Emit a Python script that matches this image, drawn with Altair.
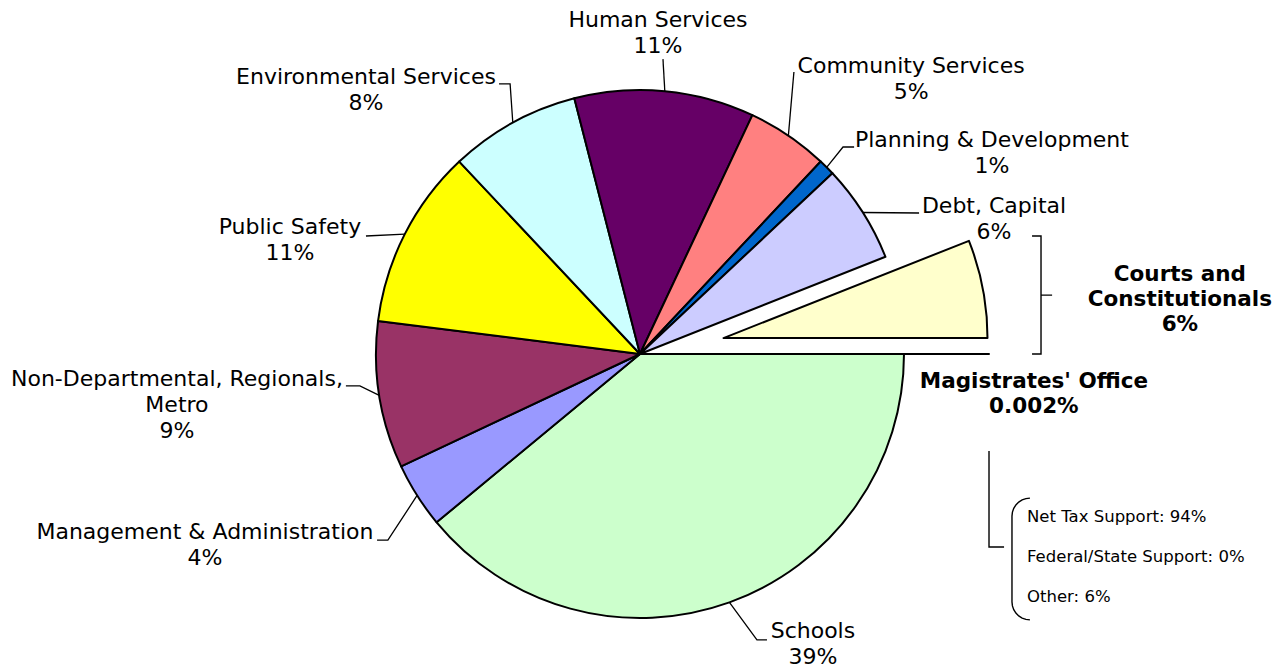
import math
import numpy as np
import pandas as pd
import altair as alt

# ---------------- data ----------------
categories = [
    "Schools",
    "Management & Administration",
    "Non-Departmental, Regionals, Metro",
    "Public Safety",
    "Environmental Services",
    "Human Services",
    "Community Services",
    "Planning & Development",
    "Debt, Capital",
    "Courts and Constitutionals",
    "Magistrates' Office",
]
shares = [39, 4, 9, 11, 8, 11, 5, 1, 6, 6, 0.002]
label_names = [
    "Schools",
    "Management & Administration",
    "Non-Departmental, Regionals,\nMetro",
    "Public Safety",
    "Environmental Services",
    "Human Services",
    "Community Services",
    "Planning & Development",
    "Debt, Capital",
    "Courts and\nConstitutionals",
    "Magistrates' Office",
]
exploded = [0, 0, 0, 0, 0, 0, 0, 0, 0, 1, 1]
bold_label = [0, 0, 0, 0, 0, 0, 0, 0, 0, 1, 1]
funding_labels = ["Net Tax Support: 94%", "Federal/State Support: 0%", "Other: 6%"]

# ---------------- styles / layout ----------------
colors = ["#CCFFCC", "#9999FF", "#993366", "#FFFF00", "#CCFFFF", "#660066",
          "#FF8080", "#0066CC", "#CCCCFF", "#FFFFCC", "#FFFFCC"]
W, H = 1267, 662          # drawing area (px)
CX, CY = 632, 346         # pie centre (px)
R = 264                   # pie radius (px); 1 data unit = R px
EXPLODE = 85 / R
FONT = "DejaVu Sans"
LH_REG, LH_BOLD = 26, 25

# label block centres in pie-radius units (centre = 0,0, y up)
label_pos = {
    "Schools": (0.655, -1.098),
    "Management & Administration": (-1.648, -0.723),
    "Non-Departmental, Regionals, Metro": (-1.754, -0.193),
    "Public Safety": (-1.326, 0.432),
    "Environmental Services": (-1.038, 1.0),
    "Human Services": (0.068, 1.216),
    "Community Services": (1.027, 1.042),
    "Planning & Development": (1.333, 0.761),
    "Debt, Capital": (1.341, 0.511),
    "Courts and Constitutionals": (2.045, 0.205),
    "Magistrates' Office": (1.492, -0.155),
}
# leader line points after the slice edge point
leader_pts = {
    "Schools": [(0.443, -1.083), (0.481, -1.083)],
    "Management & Administration": [(-0.955, -0.705), (-0.996, -0.705)],
    "Non-Departmental, Regionals, Metro": [(-1.061, -0.121), (-1.114, -0.121)],
    "Public Safety": [(-1.038, 0.447)],
    "Environmental Services": [(-0.492, 1.023), (-0.534, 1.023)],
    "Human Services": [(0.087, 1.117)],
    "Community Services": [(0.583, 1.068)],
    "Planning & Development": [(0.769, 0.784), (0.811, 0.784)],
    "Debt, Capital": [(1.057, 0.534)],
}

# ---------------- build tables ----------------
total = sum(shares)
df = pd.DataFrame({"category": categories, "share": shares,
                   "explode": exploded, "bold": bold_label, "name": label_names})
df["end"] = df["share"].cumsum()
df["start"] = df["end"] - df["share"]
df["mid"] = math.pi / 2 + 2 * math.pi * (df["start"] + df["end"]) / 2 / total
df["cx"] = df["explode"] * EXPLODE * np.sin(df["mid"])
df["cy"] = df["explode"] * EXPLODE * np.cos(df["mid"])
df["label"] = df["name"] + "\n" + df["share"].map(lambda v: f"{v:g}") + "%"
df["nlines"] = df["label"].str.count("\n") + 1
df["lh"] = np.where(df["bold"] == 1, LH_BOLD, LH_REG)
df["lx"] = df["category"].map(lambda c: label_pos[c][0])
# Vega places the first line at y: shift so the whole block is centred
df["ly"] = df["category"].map(lambda c: label_pos[c][1]) + (df["nlines"] - 1) * df["lh"] / 2 / R

rows = []
for _, r in df.iterrows():
    if r["category"] in leader_pts:
        pts = [(math.sin(r["mid"]), math.cos(r["mid"]))] + leader_pts[r["category"]]
        for i, (px, py) in enumerate(pts):
            rows.append({"key": r["category"], "o": i, "x": px, "y": py})
leaders = pd.DataFrame(rows)

# brackets
brk = []
brace = [(1.485, 0.447), (1.519, 0.447), (1.519, 0.223), (1.561, 0.223),
         (1.519, 0.223), (1.519, 0.0), (1.485, 0.0)]
for i, (px, py) in enumerate(brace):
    brk.append({"key": "brace", "o": i, "x": px, "y": py})
ell = [(1.322, -0.367), (1.322, -0.731), (1.379, -0.731)]
for i, (px, py) in enumerate(ell):
    brk.append({"key": "ell", "o": i, "x": px, "y": py})
rc = 0.068
px0, top_c, bot_c = 1.477, -0.614, -0.939
paren = []
for a in np.linspace(0, math.pi / 2, 8):
    paren.append((px0 - rc * math.sin(a), top_c + rc * math.cos(a)))
for a in np.linspace(math.pi / 2, math.pi, 8):
    paren.append((px0 - rc * math.sin(a), bot_c + rc * math.cos(a)))
for i, (px, py) in enumerate(paren):
    brk.append({"key": "paren", "o": i, "x": px, "y": py})
brackets = pd.DataFrame(brk)

funding = pd.DataFrame({"text": funding_labels,
                        "x": [1.466] * 3, "y": [-0.617, -0.769, -0.920]})

# ---------------- scales ----------------
xs = alt.Scale(domain=[-CX / R, (W - CX) / R], nice=False, zero=False)
ys = alt.Scale(domain=[-(H - CY) / R, CY / R], nice=False, zero=False)
theta_scale = alt.Scale(domain=[0, total], range=[math.pi / 2, math.pi / 2 + 2 * math.pi])

pie = alt.Chart(df).mark_arc(radius=R, stroke="black", strokeWidth=2, strokeJoin="round").encode(
    theta=alt.Theta("start:Q", stack=None, scale=theta_scale),
    theta2="end:Q",
    x=alt.X("cx:Q", scale=xs, axis=None),
    y=alt.Y("cy:Q", scale=ys, axis=None),
    color=alt.Color("category:N", scale=alt.Scale(domain=categories, range=colors), legend=None),
)

lead = alt.Chart(leaders).mark_line(color="black", strokeWidth=1.3).encode(
    x=alt.X("x:Q", scale=xs, axis=None),
    y=alt.Y("y:Q", scale=ys, axis=None),
    detail="key:N",
    order="o:Q",
)

brk_lines = alt.Chart(brackets).mark_line(color="black", strokeWidth=1.4).encode(
    x=alt.X("x:Q", scale=xs, axis=None),
    y=alt.Y("y:Q", scale=ys, axis=None),
    detail="key:N",
    order="o:Q",
)

labels = alt.Chart(df).transform_filter("datum.bold == 0").mark_text(
    font=FONT, fontSize=22, lineBreak="\n", lineHeight=LH_REG,
    align="center", baseline="middle", color="black",
).encode(
    x=alt.X("lx:Q", scale=xs, axis=None),
    y=alt.Y("ly:Q", scale=ys, axis=None),
    text="label:N",
)

bold_labels = alt.Chart(df).transform_filter("datum.bold == 1").mark_text(
    font=FONT, fontSize=21.5, fontWeight="bold", lineBreak="\n", lineHeight=LH_BOLD,
    align="center", baseline="middle", color="black",
).encode(
    x=alt.X("lx:Q", scale=xs, axis=None),
    y=alt.Y("ly:Q", scale=ys, axis=None),
    text="label:N",
)

fund = alt.Chart(funding).mark_text(
    font=FONT, fontSize=16.5, align="left", baseline="middle", color="black",
).encode(
    x=alt.X("x:Q", scale=xs, axis=None),
    y=alt.Y("y:Q", scale=ys, axis=None),
    text="text:N",
)

chart = alt.layer(pie, lead, brk_lines, labels, bold_labels, fund).properties(
    width=W, height=H, padding=0, background="white",
    autosize=alt.AutoSizeParams(type="none"),
).configure_view(stroke=None)

chart.save("out.html", embed_options={"renderer": "svg", "actions": False})
